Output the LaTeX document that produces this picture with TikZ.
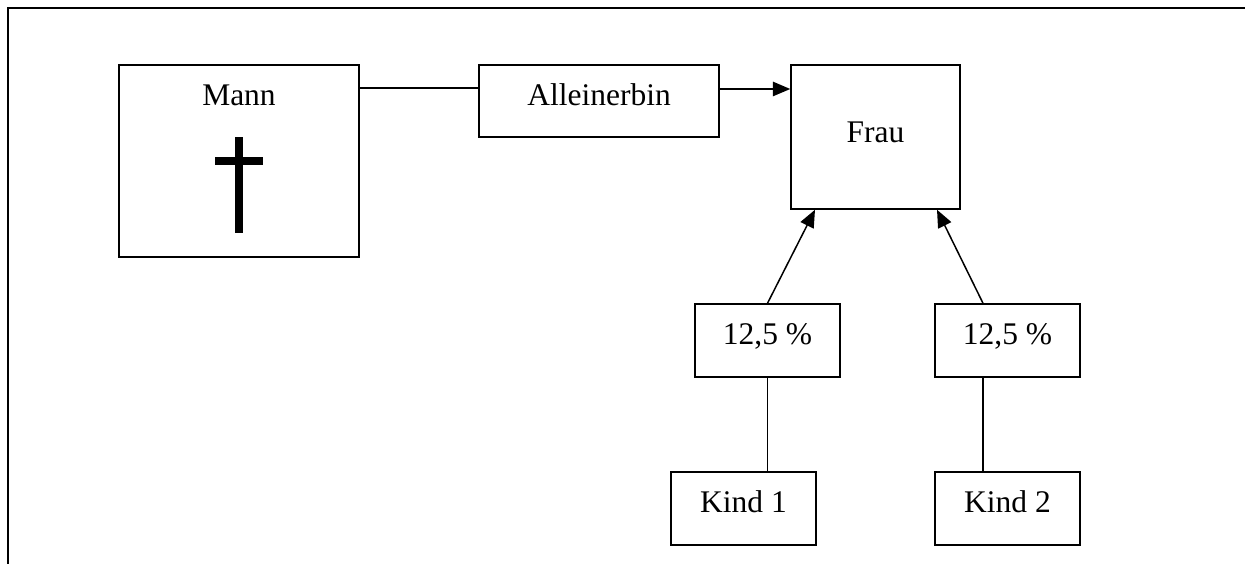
\documentclass[tikz,border=0pt]{standalone}
\usepackage{fontspec}
\setmainfont{Liberation Serif}
\usepackage{tikz}
\usetikzlibrary{arrows.meta,positioning}
\tikzset{
  box/.style={rectangle,draw=black,line width=0.6pt,inner sep=0pt,text height=8pt,text depth=4.4pt,font=\fontsize{12.6pt}{15pt}\selectfont},
  personbox/.style={box,minimum width=96pt,minimum height=76.8pt},
  heirbox/.style={box,minimum width=96pt,minimum height=28.8pt},
  sharebox/.style={box,minimum width=58pt,minimum height=29.2pt},
  arrow/.style={-{Triangle[length=7pt,width=5.8pt]},line width=0.6pt,draw=black},
  link/.style={line width=0.6pt,draw=black}
}
\begin{document}
\begin{tikzpicture}[x=0.4pt,y=-0.4pt]
  \useasboundingbox (0,0) rectangle (1245,564);
  \draw[line width=1.1pt] (8,564) -- (8,8) -- (1245,8);

  \node[personbox] (mann) at (239,161) {};
  \node[anchor=base,font=\fontsize{12.6pt}{15pt}\selectfont] (manntext) at ([yshift=-16.4pt]mann.north) {Mann};
  \begin{scope}[shift={(mann.center)}]
    \fill (-4,-24) rectangle (4,72);
    \fill (-24,-4) rectangle (24,4);
  \end{scope}

  \node[heirbox] (erbin) at (599,101) {Alleinerbin};
  \node[box,minimum width=67.6pt,minimum height=57.6pt,text depth=3.2pt] (frau) at (875.5,137) {Frau};
  \node[sharebox] (anteil1) at (767.5,340.5) {12,5 \%};
  \node[sharebox] (anteil2) at (1007.5,340.5) {12,5 \%};
  \node[sharebox] (kind1) at (743.5,508.5) {Kind 1};
  \node[sharebox] (kind2) at (1007.5,508.5) {Kind 2};

  \coordinate (erbinin) at ([yshift=5.2pt]erbin.west);
  \coordinate (erbinout) at ([yshift=4.8pt]erbin.east);
  \coordinate (anteil2top) at ([xshift=-9.8pt]anteil2.north);
  \coordinate (anteil2bot) at ([xshift=-9.8pt]anteil2.south);

  \draw[link] (mann.east |- erbinin) -- (erbinin);
  \draw[arrow] (erbinout) -- (erbinout -| frau.west);
  \draw[arrow] (anteil1.north) -- ([xshift=-24.2pt]frau.south);
  \draw[arrow] (anteil2top) -- ([xshift=24.6pt]frau.south);
  \draw[link] (anteil1.south) -- (anteil1.south |- kind1.north);
  \draw[link] (anteil2bot) -- (anteil2bot |- kind2.north);
\end{tikzpicture}
\end{document}
